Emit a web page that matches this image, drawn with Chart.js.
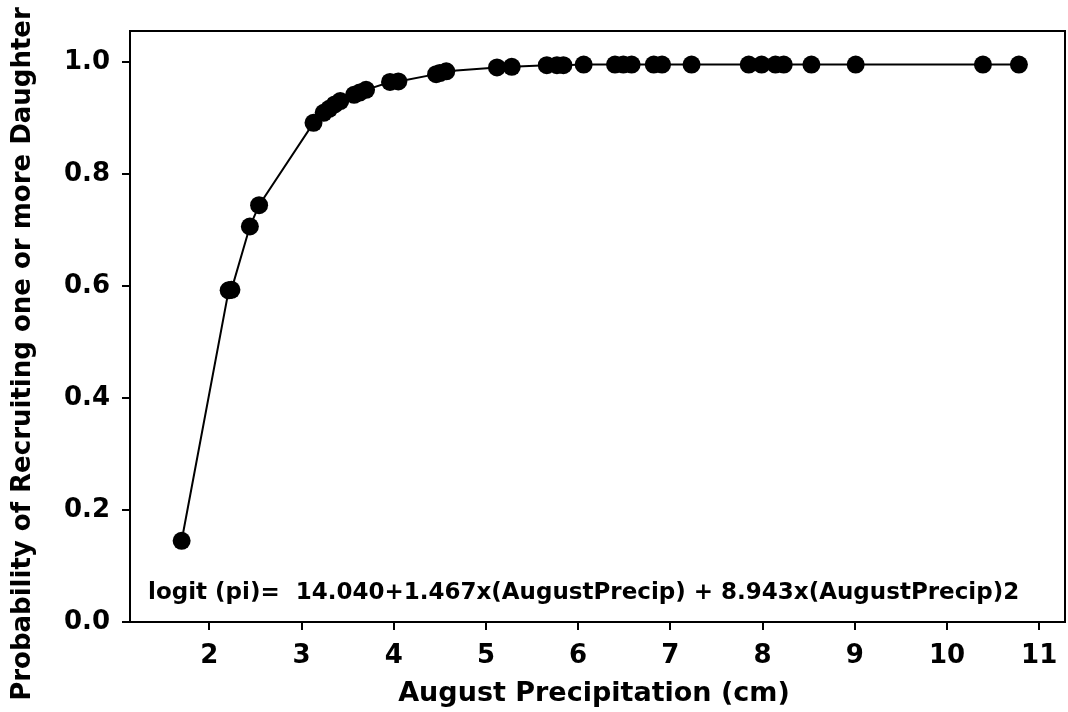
<!DOCTYPE html>
<html>
<head>
<meta charset="utf-8">
<script src="https://cdn.jsdelivr.net/npm/chart.js@4.4.1/dist/chart.umd.min.js"></script>
<style>
  html, body { margin: 0; padding: 0; background: #fff; overflow: hidden; }
  #wrap { width: 1068px; height: 712px; }
</style>
</head>
<body>
<div id="wrap"><canvas id="recruitChart"></canvas></div>
<script>
// August precipitation (cm) vs. predicted probability of recruiting daughters
const precip = [
  1.70, 2.21, 2.24, 2.44, 2.54, 3.13, 3.24, 3.30, 3.36, 3.42,
  3.57, 3.63, 3.70, 3.96, 4.05, 4.46, 4.50, 4.57, 5.12, 5.28,
  5.66, 5.77, 5.84, 6.06, 6.40, 6.49, 6.58, 6.82, 6.91, 7.23,
  7.85, 7.99, 8.14, 8.23, 8.53, 9.01, 10.39, 10.78
];
const probability = [
  0.145, 0.592, 0.593, 0.706, 0.744, 0.891, 0.909, 0.916, 0.924, 0.930,
  0.941, 0.945, 0.950, 0.964, 0.965, 0.978, 0.980, 0.983, 0.990, 0.991,
  0.994, 0.994, 0.994, 0.995, 0.995, 0.995, 0.995, 0.995, 0.995, 0.995,
  0.995, 0.995, 0.995, 0.995, 0.995, 0.995, 0.995, 0.995
];
const xTicks = [2, 3, 4, 5, 6, 7, 8, 9, 10, 11];
const yTicks = [0, 0.2, 0.4, 0.6, 0.8, 1.0];

const xTitle = "August Precipitation (cm)";
const yTitle = "Probability of Recruiting one or more Daughter";
const equation = "logit (pi)=  14.040+1.467x(AugustPrecip) + 8.943x(AugustPrecip)2";

const tickFont = { family: "DejaVu Sans", size: 26, weight: "bold" };

// box around plot + axis titles + equation
const decorPlugin = {
  id: "decor",
  afterDraw(chart) {
    const { ctx, chartArea: a } = chart;
    ctx.save();
    ctx.strokeStyle = "#000";
    ctx.lineWidth = 2;
    ctx.strokeRect(a.left, a.top, a.right - a.left, a.bottom - a.top);

    ctx.fillStyle = "#000";
    ctx.font = "bold 27px 'DejaVu Sans'";
    ctx.textAlign = "center";
    ctx.textBaseline = "alphabetic";
    ctx.fillText(xTitle, 594, 701);

    ctx.save();
    ctx.translate(30, 354);
    ctx.rotate(-Math.PI / 2);
    ctx.font = "bold 26px 'DejaVu Sans'";
    ctx.fillText(yTitle, 0, 0);
    ctx.restore();

    ctx.font = "bold 23px 'DejaVu Sans'";
    ctx.textAlign = "left";
    ctx.fillText(equation, 148, 599);
    ctx.restore();
  }
};

const ctx = document.getElementById("recruitChart").getContext("2d");
new Chart(ctx, {
  type: "scatter",
  data: {
    datasets: [
      {
        data: precip.map((x, i) => ({ x, y: probability[i] })),
        showLine: true,
        borderColor: "#000",
        borderWidth: 2,
        tension: 0,
        pointRadius: 9,
        pointHoverRadius: 9,
        pointBackgroundColor: "#000",
        pointBorderColor: "#000",
        pointBorderWidth: 0,
      },
    ],
  },
  options: {
    responsive: true,
    maintainAspectRatio: false,
    animation: false,
    layout: {
      autoPadding: false,
      padding: { top: 31, right: 3, left: 0, bottom: 0 },
    },
    plugins: {
      legend: { display: false },
      tooltip: { enabled: false },
    },
    scales: {
      x: {
        type: "linear",
        min: 1.14,
        max: 11.28,
        afterFit: (scale) => {
          scale.height = 90;
          scale.paddingLeft = 0;
          scale.paddingRight = 0;
        },
        afterBuildTicks: (scale) => { scale.ticks = xTicks.map((v) => ({ value: v })); },
        grid: {
          drawOnChartArea: false,
          drawTicks: true,
          tickLength: 8,
          color: "#000",
          lineWidth: 2,
        },
        border: { display: false },
        ticks: {
          color: "#000",
          font: tickFont,
          padding: 11,
          autoSkip: false,
          maxRotation: 0,
        },
      },
      y: {
        min: 0,
        max: 1.055,
        afterFit: (scale) => {
          scale.width = 130;
          scale.paddingTop = 0;
          scale.paddingBottom = 0;
        },
        afterBuildTicks: (scale) => { scale.ticks = yTicks.map((v) => ({ value: v })); },
        grid: {
          drawOnChartArea: false,
          drawTicks: true,
          tickLength: 8,
          color: "#000",
          lineWidth: 2,
        },
        border: { display: false },
        ticks: {
          color: "#000",
          font: tickFont,
          padding: 12,
          callback: (v) => Number(v).toFixed(1),
        },
      },
    },
  },
  plugins: [decorPlugin],
});
</script>
</body>
</html>
